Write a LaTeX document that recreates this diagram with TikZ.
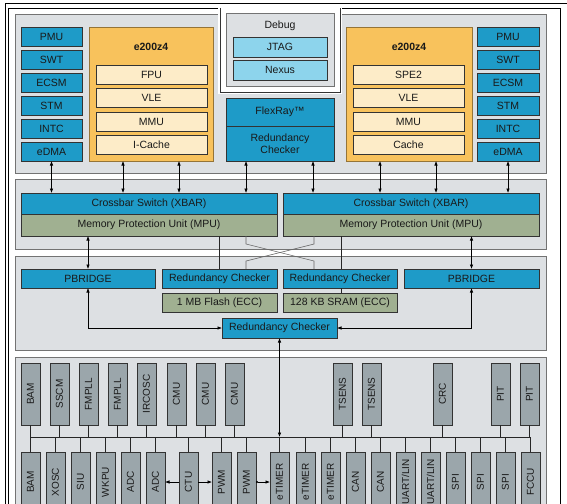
\documentclass[tikz,border=0pt]{standalone}
\usepackage{fontspec}
\setmainfont{Liberation Sans}
\usepackage{graphicx}
\usetikzlibrary{arrows.meta}
\definecolor{bluebox}{HTML}{1E9BC8}
\definecolor{lblue}{HTML}{8DD4EC}
\definecolor{orng}{HTML}{F8C25C}
\definecolor{cream}{HTML}{FDECC8}
\definecolor{grn}{HTML}{A0B091}
\definecolor{gbox}{HTML}{9BA6AB}
\definecolor{panel}{HTML}{DDE0E3}
\tikzset{
 base/.style={draw=black!80, line width=0.7pt, inner sep=0pt, outer sep=0pt, font=\fontsize{10.5}{12.5}\selectfont, text=black!90, align=center},
 bl/.style={base, fill=bluebox},
 lb/.style={base, fill=lblue},
 corebox/.style={base, fill=orng, draw=orng!60!black},
 cr/.style={base, fill=cream},
 gr/.style={base, fill=grn},
 gy/.style={base, fill=gbox, font=\fontsize{10}{12}\selectfont},
 pnl/.style={fill=panel, draw=black!55, line width=0.7pt},
 dbl/.style={{Latex[length=4.5pt,width=3.5pt]}-{Latex[length=4.5pt,width=3.5pt]}, line width=0.6pt},
 arr/.style={-{Latex[length=4.5pt,width=3.5pt]}, line width=0.6pt},
 ln/.style={line width=0.6pt, draw=black!85},
 xln/.style={line width=0.6pt, draw=black!60},
}
\newcommand\bx[7]{%
 \pgfmathsetmacro\bxcx{(#3+#5)/2}\pgfmathsetmacro\bxcy{(#4+#6)/2}%
 \pgfmathsetmacro\bxw{#5-#3}\pgfmathsetmacro\bxh{#6-#4}%
 \node[#1, minimum width=\bxw pt, minimum height=\bxh pt] (#2) at (\bxcx,\bxcy) {#7};}
\newcommand\vbx[7]{\bx{#1}{#2}{#3}{#4}{#5}{#6}{\rotatebox{90}{#7}}}
\begin{document}
\begin{tikzpicture}[x=1pt,y=-1pt]
\useasboundingbox (0,0) rectangle (567,503);
\clip (0,0) rectangle (567,503);
% frames
\draw[line width=0.8pt] (5,3) rectangle (600,600);
\draw[line width=0.8pt] (8.5,8) rectangle (560,600);
% panels
\draw[pnl] (15,14) rectangle (546,173);
\draw[pnl] (15,179) rectangle (546,249);
\draw[pnl] (15,256) rectangle (546,350);
\draw[pnl] (15,357) rectangle (546,600);
% debug notch
\fill[white] (218,8.5) rectangle (342,94);
\draw[line width=0.7pt, draw=black!80] (220,8) -- (220,92) -- (340,92) -- (340,8);
\bx{pnl, inner sep=0pt}{dbg}{226}{13}{334}{86}{}
\node[font=\fontsize{10.5}{12.5}\selectfont, text=black!90] (dbgt) at (280,26) {Debug};
\bx{lb}{jtag}{233}{37}{327}{57}{JTAG}
\bx{lb}{nexus}{233}{60}{327}{80}{Nexus}
% left column
\bx{bl}{pmuL}{21}{27}{82}{46}{PMU}
\bx{bl}{swtL}{21}{50}{82}{69}{SWT}
\bx{bl}{ecsmL}{21}{73}{82}{92}{ECSM}
\bx{bl}{stmL}{21}{96}{82}{115}{STM}
\bx{bl}{intcL}{21}{119}{82}{138}{INTC}
\bx{bl}{edmaL}{21}{142}{82}{161}{eDMA}
% right column
\bx{bl}{pmuR}{477}{27}{539}{46}{PMU}
\bx{bl}{swtR}{477}{50}{539}{69}{SWT}
\bx{bl}{ecsmR}{477}{73}{539}{92}{ECSM}
\bx{bl}{stmR}{477}{96}{539}{115}{STM}
\bx{bl}{intcR}{477}{119}{539}{138}{INTC}
\bx{bl}{edmaR}{477}{142}{539}{161}{eDMA}
% cores
\bx{corebox}{coreL}{89}{27}{213}{161}{}
\node[font=\bfseries\fontsize{10.5}{12.5}\selectfont, text=black!90] (coreLt) at (151,47) {e200z4};
\bx{cr}{fpu}{96}{65}{207}{84}{FPU}
\bx{cr}{vleL}{96}{88}{207}{107}{VLE}
\bx{cr}{mmuL}{96}{112}{207}{131}{MMU}
\bx{cr}{icache}{96}{135}{207}{154}{I-Cache}
\bx{corebox}{coreR}{346}{27}{472}{161}{}
\node[font=\bfseries\fontsize{10.5}{12.5}\selectfont, text=black!90] (coreRt) at (409,47) {e200z4};
\bx{cr}{spe}{353}{65}{464}{84}{SPE2}
\bx{cr}{vleR}{353}{88}{464}{107}{VLE}
\bx{cr}{mmuR}{353}{112}{464}{131}{MMU}
\bx{cr}{cache}{353}{135}{464}{154}{Cache}
% flexray
\bx{bl}{flex}{226}{98}{334}{126}{FlexRay™}
\bx{bl}{flexrc}{226}{126}{334}{161}{Redundancy\\Checker}
% crossbars
\bx{bl}{xbarL}{21}{193}{277}{214}{Crossbar Switch (XBAR)}
\bx{gr}{mpuL}{21}{214}{277}{236}{Memory Protection Unit (MPU)}
\bx{bl}{xbarR}{283}{193}{539}{214}{Crossbar Switch (XBAR)}
\bx{gr}{mpuR}{283}{214}{539}{236}{Memory Protection Unit (MPU)}
% bridge panel
\bx{bl}{pbL}{21}{269}{155}{288}{PBRIDGE}
\bx{bl}{rcL}{162}{269}{277}{288}{Redundancy Checker}
\bx{gr}{flash}{162}{293}{277}{312}{1 MB Flash (ECC)}
\bx{bl}{rcR}{283}{269}{397}{288}{Redundancy Checker}
\bx{gr}{sram}{283}{293}{397}{312}{128 KB SRAM (ECC)}
\bx{bl}{pbR}{404}{269}{539}{288}{PBRIDGE}
\bx{bl}{rcB}{222}{318}{337}{338}{Redundancy Checker}
% top row peripherals
\vbx{gy}{t1}{21}{363}{40}{425}{BAM}
\vbx{gy}{t2}{50}{363}{69}{425}{SSCM}
\vbx{gy}{t3}{79}{363}{98}{425}{FMPLL}
\vbx{gy}{t4}{108}{363}{127}{425}{FMPLL}
\vbx{gy}{t5}{137}{363}{156}{425}{IRCOSC}
\vbx{gy}{t6}{167}{363}{186}{425}{CMU}
\vbx{gy}{t7}{196}{363}{215}{425}{CMU}
\vbx{gy}{t8}{225}{363}{244}{425}{CMU}
\vbx{gy}{t9}{333}{363}{352}{425}{TSENS}
\vbx{gy}{t10}{362}{363}{381}{425}{TSENS}
\vbx{gy}{t11}{433}{363}{452}{425}{CRC}
\vbx{gy}{t12}{491}{363}{510}{425}{PIT}
\vbx{gy}{t13}{520}{363}{539}{425}{PIT}
% bottom row peripherals
\vbx{gy}{b1}{21}{452}{40}{512}{BAM}
\vbx{gy}{b2}{46}{452}{65}{512}{XOSC}
\vbx{gy}{b3}{71}{452}{90}{512}{SIU}
\vbx{gy}{b4}{96}{452}{115}{512}{WKPU}
\vbx{gy}{b5}{121}{452}{140}{512}{ADC}
\vbx{gy}{b6}{146}{452}{165}{512}{ADC}
\vbx{gy}{b7}{179}{452}{198}{512}{CTU}
\vbx{gy}{b8}{212}{452}{231}{512}{PWM}
\vbx{gy}{b9}{237}{452}{256}{512}{PWM}
\vbx{gy}{b10}{270}{452}{289}{512}{eTIMER}
\vbx{gy}{b11}{296}{452}{315}{512}{eTIMER}
\vbx{gy}{b12}{321}{452}{340}{512}{eTIMER}
\vbx{gy}{b13}{346}{452}{365}{512}{CAN}
\vbx{gy}{b14}{371}{452}{390}{512}{CAN}
\vbx{gy}{b15}{396}{452}{415}{512}{UART/LIN}
\vbx{gy}{b16}{421}{452}{440}{512}{UART/LIN}
\vbx{gy}{b17}{446}{452}{465}{512}{SPI}
\vbx{gy}{b18}{471}{452}{490}{512}{SPI}
\vbx{gy}{b19}{496}{452}{515}{512}{SPI}
\vbx{gy}{b20}{521}{452}{540}{512}{FCCU}
% coordinates
\coordinate (a123) at (123,0);
\coordinate (a179) at (179,0);
\coordinate (a246) at (246,0);
\coordinate (a313) at (313,0);
\coordinate (a380) at (380,0);
\coordinate (a436) at (436,0);
\coordinate (k1) at (246,244);
\coordinate (k2) at (314,261);
\coordinate (k3) at (314,244);
\coordinate (k4) at (246,261);
\coordinate (m341) at (341,0);
\coordinate (busL) at (30.5,437);
\coordinate (busR) at (530.5,437);
% top arrows
\draw[dbl] (edmaL.south) -- (edmaL.south |- xbarL.north);
\draw[dbl] (coreL.south -| a123) -- (xbarL.north -| a123);
\draw[dbl] (coreL.south -| a179) -- (xbarL.north -| a179);
\draw[dbl] (flexrc.south -| a246) -- (xbarL.north -| a246);
\draw[dbl] (flexrc.south -| a313) -- (xbarR.north -| a313);
\draw[dbl] (coreR.south -| a380) -- (xbarR.north -| a380);
\draw[dbl] (coreR.south -| a436) -- (xbarR.north -| a436);
\draw[dbl] (edmaR.south) -- (edmaR.south |- xbarR.north);
% MPU to bridges
\draw[dbl] (mpuL.south -| pbL.north) -- (pbL.north);
\draw[dbl] (mpuR.south -| pbR.north) -- (pbR.north);
% MPU to memories
\draw[ln] (mpuL.south -| flash.north) -- (rcL.north -| flash.north);
\draw[ln] (rcL.south -| flash.north) -- (flash.north);
\draw[ln] (mpuR.south -| m341) -- (rcR.north -| m341);
\draw[ln] (rcR.south -| m341) -- (sram.north -| m341);
\draw[xln] (mpuL.south -| k1) -- (k1) -- (k2) -- (rcR.north -| k2);
\draw[xln] (mpuR.south -| k3) -- (k3) -- (k4) -- (rcL.north -| k4);
% bridges to redundancy checker
\draw[dbl] (pbL.south) |- (rcB.west);
\draw[dbl] (pbR.south) |- (rcB.east);
\draw[dbl] (rcB.south) -- (rcB.south |- busL);
% bus
\draw[ln] (busL) -- (busR);
\foreach \n in {t1,t2,t3,t4,t5,t6,t7,t8,t9,t10,t11,t12,t13}
  \draw[ln] (\n.south) -- (\n.south |- busL);
\foreach \n in {b1,b2,b3,b4,b5,b6,b7,b8,b9,b10,b11,b12,b13,b14,b15,b16,b17,b18,b19,b20}
  \draw[ln] (\n.north) -- (\n.north |- busL);
% CTU arrows
\draw[arr] (b7.west) -- (b6.east);
\draw[arr] (b7.east) -- (b8.west);
\draw[{Circle[length=2pt]}-{Latex[length=4.5pt,width=3.5pt]}, line width=0.6pt] (b9.east) -- (b10.west);
\end{tikzpicture}
\end{document}
